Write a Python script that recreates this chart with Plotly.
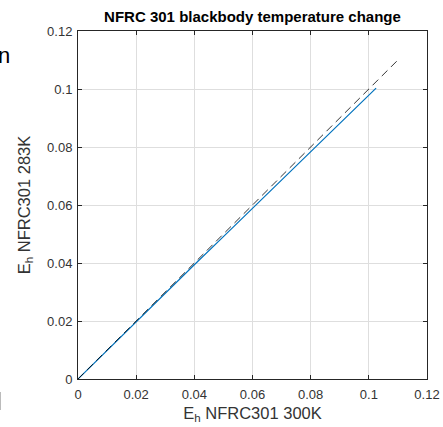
import plotly.graph_objects as go

# Data
e300 = [0.0, 0.01, 0.02, 0.03, 0.04, 0.05, 0.06, 0.07, 0.08, 0.09, 0.1, 0.1025]
e283 = [0.0, 0.0099, 0.0198, 0.0296, 0.0394, 0.0491, 0.0589, 0.0686, 0.0784, 0.0881, 0.0978, 0.1003]
ref_x = [0.0, 0.11]
ref_y = [0.0, 0.11]
ticks = [0, 0.02, 0.04, 0.06, 0.08, 0.1, 0.12]
tick_text = ["0", "0.02", "0.04", "0.06", "0.08", "0.1", "0.12"]

FONT = "Liberation Sans, Arial"

fig = go.Figure()
fig.add_trace(go.Scatter(x=e300, y=e283, mode="lines",
                         line=dict(color="#0072BD", width=1.2), showlegend=False))
fig.add_trace(go.Scatter(x=ref_x, y=ref_y, mode="lines",
                         line=dict(color="black", width=0.8, dash="8px,5px"), showlegend=False))

axis_common = dict(range=[0, 0.12], tickvals=ticks, ticktext=tick_text,
                   showgrid=True, gridcolor="#dedede", gridwidth=1,
                   showline=True, linecolor="#262626", linewidth=1, mirror="ticks",
                   ticks="inside", ticklen=4, tickcolor="#262626",
                   tickfont=dict(family=FONT, size=13, color="#333333"),
                   zeroline=False, automargin=False)

fig.update_layout(
    width=443, height=427,
    margin=dict(l=78, r=16, t=31, b=48),
    paper_bgcolor="white", plot_bgcolor="white",
    title=dict(text="<b>NFRC 301 blackbody temperature change</b>",
               x=252.5 / 443, xanchor="center",
               y=1 - 17 / 427, yanchor="middle",
               font=dict(family=FONT, size=15, color="black")),
    xaxis=dict(**axis_common, ticklabelstandoff=3,
               title=dict(text="E<sub>h</sub> NFRC301 300K", standoff=6,
                          font=dict(family=FONT, size=16.5, color="#333333"))),
    yaxis=dict(**axis_common, ticklabelstandoff=2,
               title=dict(text="E<sub>h</sub> NFRC301 283K", standoff=12,
                          font=dict(family=FONT, size=16.5, color="#333333"))),
)

# cropped fragments at the left edge of the reference image
fig.add_annotation(text="n", xref="paper", yref="paper", x=-78 / 349, y=1 - (55 - 31) / 348,
                   xanchor="left", yanchor="middle", showarrow=False, xshift=-4,
                   font=dict(family=FONT, size=22, color="black"))
fig.add_shape(type="line", xref="paper", yref="paper",
              x0=-77.5 / 349, x1=-77.5 / 349, y0=-(392 - 379) / 348, y1=-(410 - 379) / 348,
              line=dict(color="#bbbbbb", width=1))

fig.write_html("out.html")
